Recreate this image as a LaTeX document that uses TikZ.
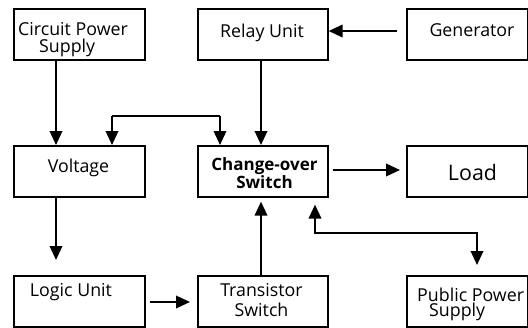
\documentclass[tikz,border=0pt]{standalone}
\usepackage{fontspec}
\setmainfont{Open Sans}
\usetikzlibrary{arrows.meta}
\begin{document}
\begin{tikzpicture}[x=1pt,y=-1pt,
  box/.style={draw,line width=1.6pt,inner sep=0pt,anchor=north west},
  txt/.style={font=\fontsize{17.8}{17}\selectfont,inner sep=0pt},
  arr/.style={line width=2pt,-{Triangle[length=14pt,width=12.5pt]}}]
\useasboundingbox (0,0) rectangle (528,327);
% boxes
\node[box,minimum width=131pt,minimum height=51pt] (cps) at (13,8) {};
\node[box,minimum width=130pt,minimum height=51pt] (relay) at (197,8) {};
\node[box,minimum width=121pt,minimum height=51pt] (gen) at (406,8) {};
\node[box,minimum width=131pt,minimum height=51pt] (volt) at (13,145) {};
\node[box,minimum width=130pt,minimum height=51pt] (cos) at (197,145) {};
\node[box,minimum width=121pt,minimum height=51pt] (load) at (406,145) {};
\node[box,minimum width=131pt,minimum height=51pt] (logic) at (13,275) {};
\node[box,minimum width=130pt,minimum height=51pt] (trans) at (197,275) {};
\node[box,minimum width=121pt,minimum height=51pt] (pps) at (406,275) {};
% texts
\node[txt,align=left,anchor=west] (tcps) at (18,40) {Circuit Power\\\hspace*{21pt}Supply};
\node[txt,anchor=base] (trelay) at (262,37.5) {Relay Unit};
\node[txt,anchor=base] (tgen) at (472,36.5) {Generator};
\node[txt,anchor=base] (tvolt) at (78.5,172) {Voltage};
\node[txt,align=center,font=\fontsize{17}{16}\selectfont\bfseries] (tcos) at (264.5,173.5) {Change-over\\Switch};
\node[txt,anchor=base,font=\fontsize{21.4}{21}\selectfont] (tload) at (472.5,180) {Load};
\node[txt,anchor=base] (tlogic) at (71,296) {Logic Unit};
\node[txt,align=center,font=\fontsize{17.8}{20}\selectfont] (ttrans) at (261.5,300) {Transistor\\Switch};
\node[txt,align=left,anchor=west,font=\fontsize{17.8}{15}\selectfont] (tpps) at (417,304) {Public Power\\\hspace*{12pt}Supply};
% connectors
\draw[arr] (cps.south -| 56,0) -- (volt.north -| 56,0);
\draw[arr] (relay.south -| 261,0) -- (cos.north -| 261,0);
\draw[arr] ([xshift=-9pt]gen.west |- 0,31) -- (relay.east |- 0,31);
\coordinate (lv) at (112,116);
\coordinate (lc) at (220,116);
\draw[line width=2pt] (lv) -- (lc);
\draw[arr] (lv) -- (volt.north -| lv);
\draw[arr] (lc) -- (cos.north -| lc);
\draw[arr] (volt.south -| 56,0) -- ([yshift=15pt]logic.north -| 56,0);
\draw[arr] ([xshift=4pt]logic.east |- 0,302) -- ([xshift=-7pt]trans.west |- 0,302);
\draw[arr] (trans.north -| 261,0) -- ([yshift=-4pt]cos.south -| 261,0);
\draw[arr] ([xshift=4pt]cos.east |- 0,170) -- ([xshift=-6pt]load.west |- 0,170);
\coordinate (pa) at (315,233);
\coordinate (pb) at (477,233);
\draw[arr] (pa) -- ([yshift=-7pt]cos.south -| pa);
\draw[arr] ([xshift=-1pt]pa) -- (pb) -- ([yshift=10pt]pps.north -| pb);
\end{tikzpicture}
\end{document}
